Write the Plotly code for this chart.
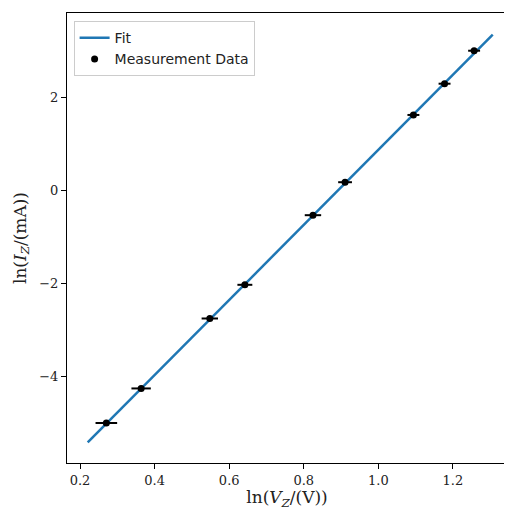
import plotly.graph_objects as go

# measured points (log-log)
ln_v = [0.2705, 0.3638, 0.548, 0.642, 0.8246, 0.9107, 1.094, 1.1775, 1.2568]
ln_i = [-5.005, -4.262, -2.758, -2.034, -0.537, 0.172, 1.618, 2.29, 2.999]
ln_v_err = [0.029, 0.026, 0.022, 0.020, 0.022, 0.0185, 0.016, 0.016, 0.016]
ln_i_err = [0.05, 0.05, 0.05, 0.05, 0.05, 0.05, 0.05, 0.05, 0.05]

# linear fit parameters
fit_slope = 8.07
fit_intercept = -7.20
fit_x = [min(ln_v) - 0.05, max(ln_v) + 0.05]
fit_y = [fit_slope * x + fit_intercept for x in fit_x]

x_ticks = [0.2, 0.4, 0.6, 0.8, 1.0, 1.2]
y_ticks = [-4, -2, 0, 2]

fig = go.Figure()
fig.add_trace(go.Scatter(
    x=fit_x, y=fit_y, mode="lines", name="Fit",
    line=dict(color="#1f77b4", width=2.5),
))
fig.add_trace(go.Scatter(
    x=ln_v, y=ln_i, mode="markers", name="Measurement Data",
    marker=dict(color="black", size=7),
    error_x=dict(type="data", array=ln_v_err, color="black", thickness=2, width=0),
    error_y=dict(type="data", array=ln_i_err, color="black", thickness=2, width=0),
))

axis_common = dict(
    showline=True, linecolor="black", linewidth=1.2, mirror=True,
    ticks="outside", ticklen=5, tickcolor="black", tickwidth=1,
    showgrid=False, zeroline=False,
    tickfont=dict(family="DejaVu Serif", size=13, color="#222"),
)

fig.update_xaxes(
    range=[0.165, 1.345], tickvals=x_ticks,
    ticktext=[f"{t:.1f}" for t in x_ticks],
    title=dict(text="ln(<i>V</i><sub><i>Z</i></sub>/(V))",
               font=dict(family="DejaVu Serif", size=17, color="#222"), standoff=6),
    **axis_common,
)
fig.update_yaxes(
    range=[-5.865, 3.81], tickvals=y_ticks,
    ticktext=["\u2212" + str(-t) if t < 0 else str(t) for t in y_ticks],
    title=dict(text="ln(<i>I</i><sub><i>Z</i></sub>/(mA))",
               font=dict(family="DejaVu Serif", size=17, color="#222"), standoff=8),
    **axis_common,
)

# the page body adds an 8px offset, so the figure is 8px smaller
fig.update_layout(
    width=504, height=502,
    margin=dict(l=59, r=4, t=4, b=40),
    plot_bgcolor="white", paper_bgcolor="white",
    legend=dict(
        x=0.015, y=0.982, xanchor="left", yanchor="top",
        bgcolor="rgba(255,255,255,0.8)", bordercolor="#cccccc", borderwidth=1,
        font=dict(family="DejaVu Sans", size=14, color="#222"),
        tracegroupgap=2,
    ),
)

fig.write_html("out.html")
